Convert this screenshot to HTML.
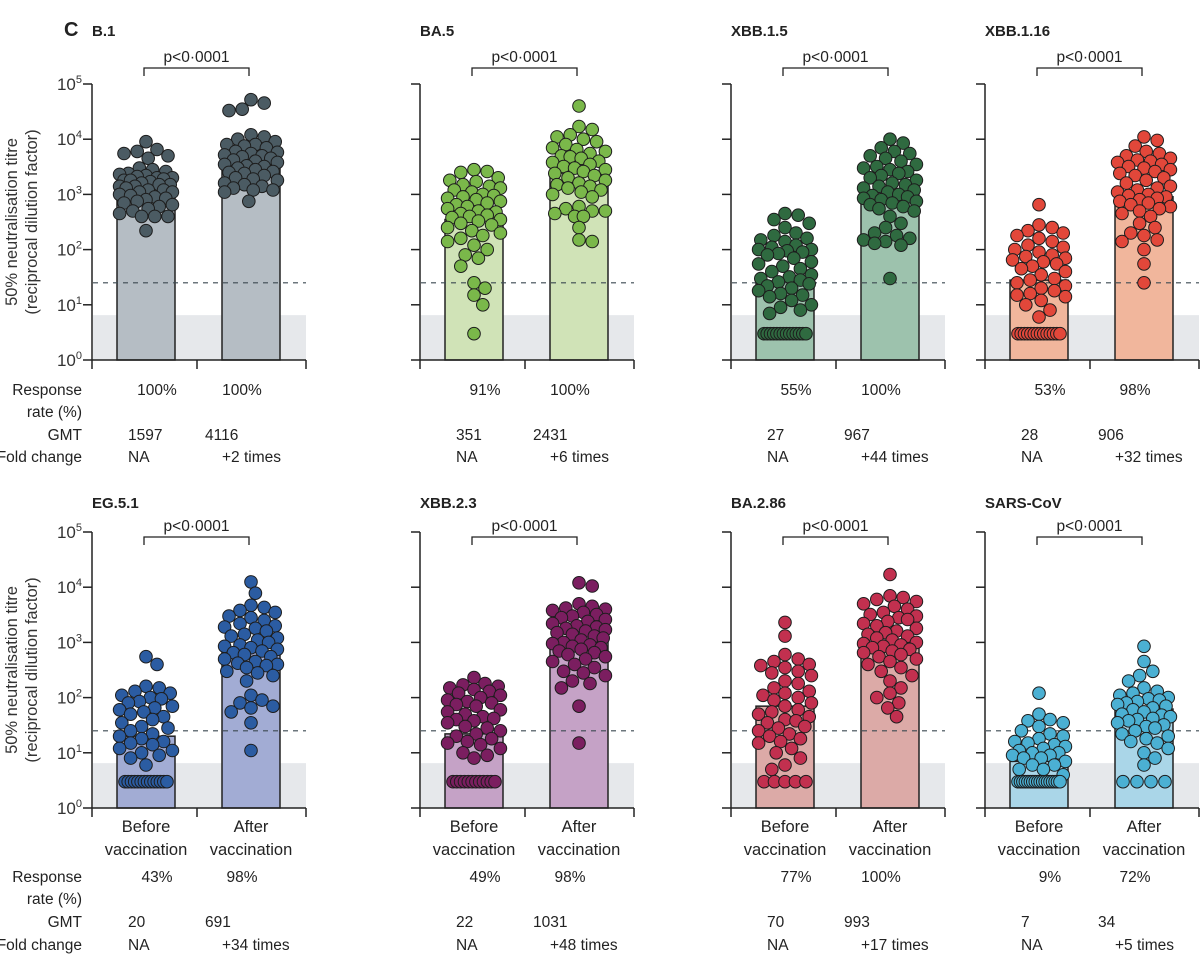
<!DOCTYPE html>
<html><head><meta charset="utf-8"><style>
body{margin:0;background:#fff;}
svg{display:block;font-family:"Liberation Sans",sans-serif;}
</style></head><body>
<svg id="fig" width="1200" height="955" viewBox="0 0 1200 955"></svg>
<script>
const variants=["B.1","BA.5","XBB.1.5","XBB.1.16","EG.5.1","XBB.2.3","BA.2.86","SARS-CoV"];
const responseBefore=["100%","91%","55%","53%","43%","49%","77%","9%"];
const responseAfter=["100%","100%","100%","98%","98%","98%","100%","72%"];
const gmtBefore=[1597,351,27,28,20,22,70,7];
const gmtAfter=[4116,2431,967,906,691,1031,993,34];
const barBefore=[1597,351,27,28,20,22,70,7];
const barAfter=[4116,2431,967,906,691,1031,993,62];
const foldChange=["+2 times","+6 times","+44 times","+32 times","+34 times","+48 times","+17 times","+5 times"];
const tickExp=[0,1,2,3,4,5];
const dotColors=["#4b5b63","#7ab84a","#2f6a40","#e2473a","#2b5ca2","#7b1e60","#c2304f","#4bb0d3"];
const barColors=["#b5bdc4","#d0e3b7","#9dc2ad","#f1b69c","#a2acd4","#c5a2c6","#dcaaa7","#aad6e8"];
const before_B1=[9000,6500,6000,5500,5000,4500,3000,2800,2600,2400,2300,2200,2100,2000,2000,1900,1800,1800,1700,1600,1500,1500,1400,1400,1300,1200,1200,1100,1100,1000,950,900,850,800,750,700,650,600,550,500,450,400,400,400,220];
const after_B1=[52000,45000,35000,33000,12000,11000,10000,9000,8000,8000,7500,7000,6000,5800,5500,5200,5000,4800,4500,4200,4000,3800,3500,3300,3200,3000,2800,2600,2500,2400,2200,2000,1900,1800,1600,1500,1400,1300,1200,1200,1100,750];
const before_BA5=[2800,2600,2500,2000,1800,1700,1500,1400,1300,1200,1100,1000,950,900,850,800,750,700,650,600,550,500,480,450,420,400,380,350,330,300,280,250,220,200,180,160,140,120,100,80,70,50,25,20,15,10,3];
const after_BA5=[40000,17000,15000,12000,11000,10000,9000,8000,7000,6500,6000,5500,5000,4800,4500,4000,3800,3500,3200,3000,2800,2600,2400,2200,2000,1800,1600,1500,1400,1300,1200,1100,1000,900,600,550,500,500,450,400,400,250,150,140];
const before_XBB15=[450,420,350,300,250,200,180,160,150,140,120,110,100,100,95,90,85,80,70,60,55,50,45,40,35,32,30,28,26,24,22,20,18,16,15,14,12,10,9,8,7,3,3,3,3,3,3,3,3,3,3,3,3,3,3];
const after_XBB15=[10000,8500,7000,6000,5500,5000,4500,4000,3500,3200,3000,2800,2600,2400,2200,2000,1800,1600,1500,1400,1300,1200,1100,1000,950,900,850,800,750,700,650,600,550,500,400,300,250,200,180,160,150,140,130,120,30];
const before_XBB116=[650,280,250,220,200,180,160,140,120,110,100,90,80,75,70,65,60,55,50,45,40,35,30,28,25,22,20,18,16,15,14,12,10,8,6,3,3,3,3,3,3,3,3,3,3,3,3,3,3];
const after_XBB116=[11000,9500,7500,6000,5500,5000,4500,4200,4000,3800,3500,3200,3000,2800,2600,2400,2200,2000,1800,1600,1400,1300,1200,1100,1000,950,900,850,800,750,700,650,600,550,500,450,400,300,250,200,180,150,140,100,55,25];
const before_EG51=[550,400,160,150,130,120,110,100,95,85,80,70,65,60,55,50,45,40,35,30,28,25,22,20,18,16,15,14,12,11,10,9,8,6,3,3,3,3,3,3,3,3,3,3,3,3,3,3];
const after_EG51=[12500,7800,4700,4300,3800,3500,3000,2800,2500,2200,2000,1900,1800,1600,1400,1300,1200,1100,1000,900,850,800,750,700,650,600,550,500,450,420,400,380,350,300,280,250,200,110,90,80,70,65,55,35,11];
const before_XBB23=[230,180,170,160,150,140,130,120,110,100,90,85,80,75,70,60,55,50,45,42,40,38,35,30,28,25,22,20,18,16,15,14,12,10,9,8,3,3,3,3,3,3,3,3,3,3,3,3];
const after_XBB23=[12000,10500,5000,4500,4200,4000,3800,3500,3200,3000,2800,2600,2400,2200,2000,1900,1800,1700,1600,1500,1400,1300,1200,1100,1000,950,900,850,800,750,700,650,600,550,500,450,400,350,300,280,250,200,180,150,70,15];
const before_BA286=[2300,1300,600,500,450,400,380,350,300,280,250,200,180,150,130,120,110,100,90,80,70,60,55,50,45,40,38,35,30,28,25,22,20,18,16,15,12,10,8,6,5,3,3,3,3,3];
const after_BA286=[17000,7000,6500,6000,5500,5000,4500,4000,3500,3200,3000,2800,2600,2400,2200,2000,1800,1600,1500,1400,1300,1200,1100,1000,950,900,850,800,750,700,650,600,550,500,450,400,350,300,250,200,150,120,100,80,65,45];
const before_SARS=[120,50,40,38,35,30,25,22,20,18,16,15,14,13,12,11,10,10,9,9,8,8,7,6,6,5,5,4,3,3,3,3,3,3,3,3,3,3,3,3,3,3,3,3,3,3];
const after_SARS=[850,450,300,250,200,150,130,120,110,100,95,90,85,80,75,70,65,60,55,50,48,45,42,40,38,35,32,30,28,25,22,20,18,16,15,12,10,8,6,3,3,3,3];
const beforeSets=[before_B1,before_BA5,before_XBB15,before_XBB116,before_EG51,before_XBB23,before_BA286,before_SARS];
const afterSets=[after_B1,after_BA5,after_XBB15,after_XBB116,after_EG51,after_XBB23,after_BA286,after_SARS];
const detectionLimit=25;
const shadeTop=6.5;

const svg=document.getElementById('fig');
const NS='http://www.w3.org/2000/svg';
function mk(tag,attrs,parent){const e=document.createElementNS(NS,tag);for(const k in attrs)e.setAttribute(k,attrs[k]);(parent||svg).appendChild(e);return e;}
function txt(x,y,s,size,anchor,parent,weight){const t=mk('text',{x:x,y:y,'font-size':size,'text-anchor':anchor||'start',fill:'#222'},parent);if(weight)t.setAttribute('font-weight',weight);t.textContent=s;return t;}

const axisX=[92,420,731,985];
const R=6.3;

function swarm(vals,cx,yf,g,fill){
  const placed=[];
  const low=vals.filter(v=>v<=3), hi=vals.filter(v=>v>3).sort((a,b)=>b-a);
  hi.forEach(v=>{
    const y=yf(v);let best=null,bestScore=-1;
    for(let k=0;k<=14;k++){
      for(const s of (k===0?[0]:[k*2.2,-k*2.2])){
        if(Math.abs(s)>28)continue;
        let md=1e9;placed.forEach(p=>{const d=Math.hypot(p[0]-(cx+s),p[1]-y);if(d<md)md=d;});
        if(md>=2*R*0.95){best=s;bestScore=1e9;break;}
        if(md>bestScore){bestScore=md;best=s;}
      }
      if(bestScore===1e9)break;
    }
    placed.push([cx+best,y]);
  });
  const n=low.length;
  low.forEach((v,i)=>{const s=n>1?-21+42*i/(n-1):0;placed.push([cx+s,yf(v)]);});
  placed.forEach(p=>{
    const c=mk('circle',{cx:p[0].toFixed(1),cy:p[1].toFixed(1),r:R,fill:fill,stroke:'#1d1d1d','stroke-width':1},g);
    
    
  });
}

variants.forEach((name,i)=>{
  const row=Math.floor(i/4), col=i%4;
  const ax=axisX[col];
  const y0=row?808:360, y5=row?532:84;
  const dec=(y0-y5)/5;
  const yf=v=>y0-dec*Math.log10(v);
  const g=mk('g',{});
  
  
  const right=ax+214;
  const sh=mk('rect',{x:ax+1,y:yf(shadeTop),width:right-ax-1,height:y0-yf(shadeTop),fill:'#e6e8eb'},g);
  
  
  const bc=[ax+54,ax+159];
  [barBefore[i],barAfter[i]].forEach((v,j)=>{
    const b=mk('rect',{x:bc[j]-29,y:yf(v),width:58,height:y0-yf(v),fill:barColors[i],stroke:'#222','stroke-width':1.5},g);
    
    
  });
  const dl=mk('line',{x1:ax+1,x2:right,y1:yf(detectionLimit),y2:yf(detectionLimit),stroke:'#3c4a52','stroke-width':1.2,'stroke-dasharray':'5,5'},g);
  
  
  swarm(beforeSets[i],bc[0],yf,g,dotColors[i]);
  swarm(afterSets[i],bc[1],yf,g,dotColors[i]);
  mk('line',{x1:ax,x2:ax,y1:y5,y2:y0,stroke:'#222','stroke-width':1.5},g);
  mk('line',{x1:ax,x2:right,y1:y0,y2:y0,stroke:'#222','stroke-width':1.5},g);
  [ax,ax+105,right].forEach(x=>mk('line',{x1:x,x2:x,y1:y0,y2:y0+9,stroke:'#222','stroke-width':1.5},g));
  tickExp.forEach(e=>{
    const y=y0-dec*e;
    mk('line',{x1:ax-9,x2:ax,y1:y,y2:y,stroke:'#222','stroke-width':1.5},g);
    if(col===0){
      const t=mk('text',{x:ax-10,y:y+6,'font-size':17,'text-anchor':'end',fill:'#333'},g);
      
      
      t.textContent='10';
      const s=mk('tspan',{dy:-7,'font-size':11},t);s.textContent=e;
    }
  });
  const tt=txt(ax,row?508:36,name,15,'start',g,'bold');
  
  
  const by=row?537:68;
  mk('path',{d:`M${bc[0]-2},${by+8}V${by}H${bc[1]-2}V${by+8}`,fill:'none',stroke:'#222','stroke-width':1.3},g);
  const pt=txt((bc[0]+bc[1])/2-2,by-6,'p<0·0001',15.5,'middle',g);
  
  
  if(row){
    txt(bc[0],832,'Before',16.5,'middle',g);txt(bc[0],855,'vaccination',16.5,'middle',g);
    txt(bc[1],832,'After',16.5,'middle',g);txt(bc[1],855,'vaccination',16.5,'middle',g);
  }
  const ry=row?[882,927,950]:[395,440,462];
  txt(ax+65,ry[0],responseBefore[i],15.5,'middle',g);
  txt(ax+150,ry[0],responseAfter[i],15.5,'middle',g);
  txt(ax+36,ry[1],String(gmtBefore[i]),15.5,'start',g);
  txt(ax+113,ry[1],String(gmtAfter[i]),15.5,'start',g);
  txt(ax+36,ry[2],'NA',15.5,'start',g);
  txt(ax+130,ry[2],foldChange[i],15.5,'start',g);
  if(col===0){
    txt(82,ry[0],'Response',15.5,'end',g);
    txt(82,ry[0]+22,'rate (%)',15.5,'end',g);
    txt(82,ry[1],'GMT',15.5,'end',g);
    txt(82,ry[2],'Fold change',15.5,'end',g);
    const cy=(y0+y5)/2;
    const a=mk('text',{x:0,y:0,'font-size':16.5,'text-anchor':'middle',fill:'#333',transform:`translate(17,${cy}) rotate(-90)`},g);
    
    
    a.textContent='50% neutralisation titre';
    const b=mk('text',{x:0,y:0,'font-size':16.5,'text-anchor':'middle',fill:'#333',transform:`translate(37,${cy}) rotate(-90)`},g);
    
    
    b.textContent='(reciprocal dilution factor)';
  }
});
const c=txt(64,36,'C',20,'start',null,'bold');


</script>
</body></html>
